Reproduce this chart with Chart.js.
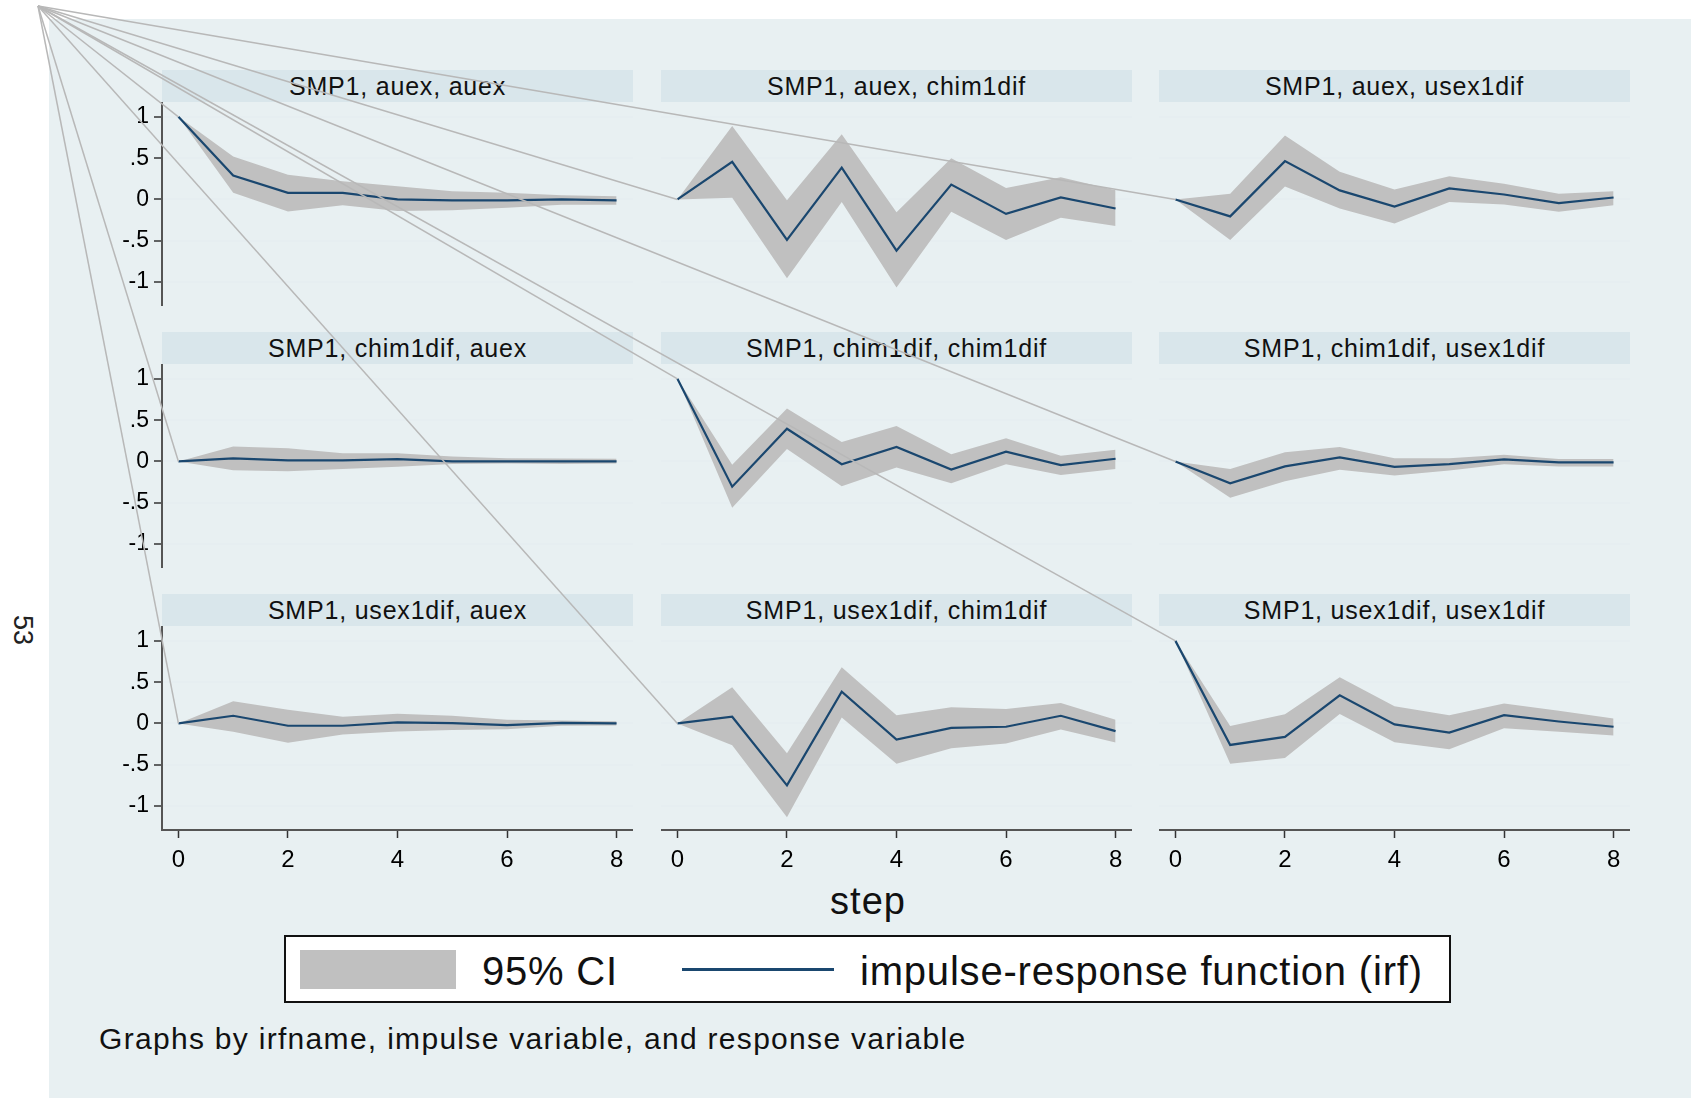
<!DOCTYPE html>
<html><head><meta charset="utf-8">
<script src="https://cdn.jsdelivr.net/npm/chart.js@4/dist/chart.umd.min.js"></script>
<style>
html,body{margin:0;padding:0;background:#fff;width:1691px;height:1098px;overflow:hidden;font-family:"Liberation Sans",Arial,sans-serif;}
#bg{position:absolute;left:49px;top:19px;right:0;bottom:0;background:#e8f0f2;}
.hdr{position:absolute;height:32px;line-height:32px;background:#d9e6eb;text-align:center;font-size:25px;letter-spacing:0.8px;color:#111;white-space:nowrap;}
canvas.pc{position:absolute;}
#ov{position:absolute;left:0;top:0;z-index:10;pointer-events:none;}
.txt{position:absolute;white-space:nowrap;color:#111;line-height:1;}
#legend{position:absolute;left:284px;top:935px;width:1163px;height:64px;border:2px solid #111;background:#fff;}
</style></head>
<body>
<div id="bg"></div>
<div id="wrap"></div>
<div class="txt" style="left:22px;top:630px;transform:translate(-50%,-50%) rotate(90deg);font-size:27px;color:#222;">53</div>
<div class="txt" style="left:868px;top:882px;transform:translateX(-50%);font-size:38px;letter-spacing:1px;">step</div>
<div id="legend"></div>
<div style="position:absolute;left:300px;top:950px;width:156px;height:39px;background:#c0c0c0;"></div>
<div class="txt" style="left:482px;top:951px;font-size:40px;letter-spacing:0.8px;">95% CI</div>
<div style="position:absolute;left:682px;top:968px;width:152px;height:3px;background:#1a476f;"></div>
<div class="txt" style="left:860px;top:951px;font-size:40px;letter-spacing:0.8px;">impulse-response function (irf)</div>
<div class="txt" style="left:99px;top:1024px;font-size:30px;letter-spacing:1.3px;">Graphs by irfname, impulse variable, and response variable</div>
<canvas id="ov" width="1691" height="1098"></canvas>
<script>
const steps = [0,1,2,3,4,5,6,7,8];
const xTicks = [0,2,4,6,8];
const yTicks = [-1,-0.5,0,0.5,1];
const yTickLabels = ['-1','-.5','0','.5','1'];
const titles = [
  'SMP1, auex, auex','SMP1, auex, chim1dif','SMP1, auex, usex1dif',
  'SMP1, chim1dif, auex','SMP1, chim1dif, chim1dif','SMP1, chim1dif, usex1dif',
  'SMP1, usex1dif, auex','SMP1, usex1dif, chim1dif','SMP1, usex1dif, usex1dif'
];
// auex -> auex
const irf1 = [1, 0.29, 0.08, 0.08, 0.0, -0.01, -0.01, 0.0, -0.01];
const hi1  = [1, 0.52, 0.30, 0.22, 0.16, 0.10, 0.08, 0.05, 0.04];
const lo1  = [1, 0.08, -0.145, -0.07, -0.14, -0.13, -0.10, -0.065, -0.065];
// auex -> chim1dif
const irf2 = [0, 0.455, -0.49, 0.385, -0.62, 0.18, -0.175, 0.025, -0.11];
const hi2  = [0, 0.89, -0.01, 0.79, -0.155, 0.50, 0.14, 0.27, 0.11];
const lo2  = [0, 0.02, -0.955, -0.03, -1.065, -0.15, -0.49, -0.22, -0.32];
// auex -> usex1dif
const irf3 = [0, -0.205, 0.464, 0.11, -0.085, 0.133, 0.06, -0.044, 0.024];
const hi3  = [0, 0.07, 0.774, 0.335, 0.12, 0.28, 0.19, 0.07, 0.10];
const lo3  = [0, -0.49, 0.157, -0.11, -0.29, -0.03, -0.06, -0.15, -0.07];
// chim1dif -> auex
const irf4 = [0, 0.037, 0.012, 0.012, 0.029, 0, 0, 0, 0];
const hi4  = [0, 0.18, 0.16, 0.10, 0.10, 0.06, 0.04, 0.037, 0.033];
const lo4  = [0, -0.106, -0.12, -0.09, -0.065, -0.03, -0.025, -0.03, -0.025];
// chim1dif -> chim1dif
const irf5 = [1, -0.306, 0.396, -0.033, 0.176, -0.098, 0.118, -0.045, 0.033];
const hi5  = [1, -0.04, 0.64, 0.237, 0.43, 0.086, 0.28, 0.07, 0.143];
const lo5  = [1, -0.56, 0.15, -0.30, -0.073, -0.265, -0.033, -0.163, -0.09];
// chim1dif -> usex1dif
const irf6 = [0, -0.265, -0.06, 0.05, -0.065, -0.033, 0.025, -0.012, -0.012];
const hi6  = [0, -0.09, 0.11, 0.175, 0.04, 0.04, 0.08, 0.03, 0.03];
const lo6  = [0, -0.44, -0.24, -0.10, -0.17, -0.11, -0.033, -0.06, -0.06];
// usex1dif -> auex
const irf7 = [0, 0.093, -0.028, -0.028, 0.012, 0.004, -0.02, 0.008, 0];
const hi7  = [0, 0.27, 0.166, 0.08, 0.118, 0.093, 0.045, 0.037, 0.028];
const lo7  = [0, -0.10, -0.235, -0.134, -0.097, -0.08, -0.069, -0.028, -0.024];
// usex1dif -> chim1dif
const irf8 = [0, 0.081, -0.75, 0.385, -0.195, -0.053, -0.04, 0.093, -0.093];
const hi8  = [0, 0.438, -0.36, 0.68, 0.10, 0.195, 0.174, 0.247, 0.045];
const lo8  = [0, -0.264, -1.136, 0.073, -0.487, -0.30, -0.243, -0.073, -0.231];
// usex1dif -> usex1dif
const irf9 = [1, -0.26, -0.162, 0.34, -0.012, -0.11, 0.10, 0.024, -0.04];
const hi9  = [1, -0.03, 0.11, 0.56, 0.207, 0.10, 0.243, 0.154, 0.06];
const lo9  = [1, -0.487, -0.418, 0.114, -0.227, -0.312, -0.057, -0.10, -0.146];

const panels = [
  {irf:irf1,hi:hi1,lo:lo1},{irf:irf2,hi:hi2,lo:lo2},{irf:irf3,hi:hi3,lo:lo3},
  {irf:irf4,hi:hi4,lo:lo4},{irf:irf5,hi:hi5,lo:lo5},{irf:irf6,hi:hi6,lo:lo6},
  {irf:irf7,hi:hi7,lo:lo7},{irf:irf8,hi:hi8,lo:lo8},{irf:irf9,hi:hi9,lo:lo9}
];

const COLS=[162,661,1159], ROWS=[102,364,626], PW=471, PH=204, HDR=32, YAX=70, XAX=50;
const XMIN=-0.3, XMAX=8.3, YMIN=-1.29, YMAX=1.18;
const FAM='"Liberation Sans", Arial, sans-serif';
const wrap=document.getElementById('wrap');
const built=[];
function zeroPad(s){s.paddingLeft=0;s.paddingRight=0;s.paddingTop=0;s.paddingBottom=0;}

panels.forEach((p,i)=>{
  const r=Math.floor(i/3), c=i%3;
  const showY=c===0, showX=r===2;
  const hdr=document.createElement('div');
  hdr.className='hdr';
  hdr.style.left=COLS[c]+'px'; hdr.style.top=(ROWS[r]-HDR)+'px'; hdr.style.width=PW+'px';
  hdr.textContent=titles[i];
  wrap.appendChild(hdr);
  const cv=document.createElement('canvas');
  cv.className='pc';
  const left=COLS[c]-(showY?YAX:0), top=ROWS[r];
  const w=PW+(showY?YAX:0), h=PH+(showX?XAX:0);
  cv.width=w; cv.height=h;
  cv.style.left=left+'px'; cv.style.top=top+'px';
  cv.style.width=w+'px'; cv.style.height=h+'px';
  wrap.appendChild(cv);
  const pts=a=>steps.map((s,k)=>({x:s,y:a[k]}));
  const chart=new Chart(cv,{
    type:'line',
    data:{datasets:[
      {data:pts(p.irf),borderColor:'#1a476f',borderWidth:2.2,pointRadius:0,fill:false,tension:0},
      {data:pts(p.hi),borderColor:'rgba(0,0,0,0)',borderWidth:0,pointRadius:0,fill:'+1',backgroundColor:'#c0c0c0',tension:0},
      {data:pts(p.lo),borderColor:'rgba(0,0,0,0)',borderWidth:0,pointRadius:0,fill:false,tension:0}
    ]},
    options:{
      responsive:false, animation:false, events:[],
      layout:{padding:0, autoPadding:false},
      plugins:{legend:{display:false}, tooltip:{enabled:false}},
      scales:{
        x:{type:'linear',min:XMIN,max:XMAX,display:showX,
          afterBuildTicks:s=>{s.ticks=xTicks.map(v=>({value:v}));},
          afterFit:s=>{s.height=showX?XAX:0; zeroPad(s);},
          grid:{drawOnChartArea:false,drawTicks:true,tickLength:8,tickColor:'#333',tickWidth:1.5},
          border:{display:true,color:'#555',width:2},
          ticks:{font:{family:FAM,size:24},color:'#000',padding:8,maxRotation:0,autoSkip:false}
        },
        y:{type:'linear',min:YMIN,max:YMAX,
          afterBuildTicks:s=>{s.ticks=yTicks.map(v=>({value:v}));},
          afterFit:s=>{s.width=showY?YAX:0; zeroPad(s);},
          grid:{color:'#e6eef1',lineWidth:2,drawTicks:showY,tickLength:8,tickColor:'#333',tickWidth:1.5},
          border:{display:showY,color:'#555',width:2},
          ticks:{display:showY,font:{family:FAM,size:23},color:'#000',padding:5,
            callback:v=>{const k=yTicks.indexOf(v);return k>=0?yTickLabels[k]:'';}}
        }
      }
    }
  });
  built.push({chart,left,top,p});
});

const ctx=document.getElementById('ov').getContext('2d');
ctx.strokeStyle='#b8b8b8'; ctx.lineWidth=1.5;
built.forEach(({chart,left,top,p})=>{
  const x=left+chart.scales.x.getPixelForValue(steps[0]);
  const y=top+chart.scales.y.getPixelForValue(p.irf[0]);
  ctx.beginPath(); ctx.moveTo(38,6); ctx.lineTo(x,y); ctx.stroke();
});
</script>
</body></html>
